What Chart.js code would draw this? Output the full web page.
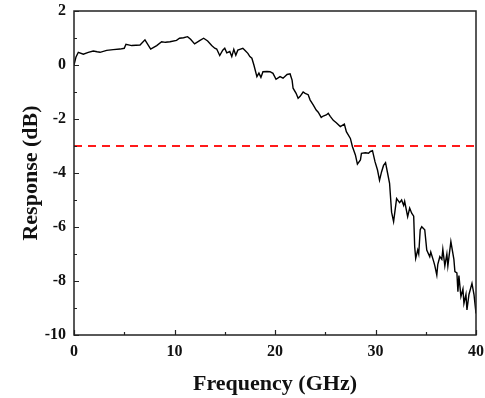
<!DOCTYPE html>
<html>
<head>
<meta charset="utf-8">
<script src="https://cdn.jsdelivr.net/npm/chart.js@4/dist/chart.umd.min.js"></script>
<style>
  html, body { margin: 0; padding: 0; background: #fff; }
  #wrap { width: 485px; height: 398px; }
</style>
</head>
<body>
<div id="wrap"><canvas id="chart" width="485" height="398"></canvas></div>
<script>
// frequency response data
const freqGHz = [
  0, 0.2, 0.43, 0.93, 1.42, 1.92, 2.3, 2.59, 3.25, 3.9, 4.58, 5.0, 5.17, 5.74, 6.57, 7.06,
  7.63, 8.23, 8.72, 9.1, 9.55, 10.2, 10.5, 10.9, 11.3, 11.6, 12.0, 12.5, 12.9, 13.3, 13.7,
  14.0, 14.2, 14.5, 14.8, 15.0, 15.2, 15.5, 15.7, 15.9, 16.1, 16.3, 16.5, 16.8, 17.0, 17.3,
  17.5, 17.7, 17.9, 18.2, 18.4, 18.6, 18.8, 19.2, 19.5, 19.8, 20.1, 20.5, 20.8, 21.2, 21.5,
  21.7, 21.8, 22.1, 22.3, 22.5, 22.8, 23.0, 23.3, 23.5, 23.8, 24.1, 24.3, 24.6, 24.8, 25.1,
  25.3, 25.5, 25.8, 26.1, 26.5, 26.9, 27.1, 27.5, 27.7, 28.0, 28.2, 28.5, 28.6, 29.0, 29.3,
  29.5, 29.7, 29.95, 30.2, 30.4, 30.6, 30.8, 31.0, 31.2, 31.4, 31.6, 31.8, 32.1, 32.4, 32.6,
  32.8, 32.9, 33.2, 33.4, 33.6, 33.8, 33.9, 34.0, 34.2, 34.3, 34.45, 34.6, 34.9, 35.1, 35.4,
  35.5, 35.8, 35.9, 36.1, 36.2, 36.4, 36.6, 36.7, 36.9, 37.1, 37.2, 37.5, 37.8, 37.9, 38.1,
  38.2, 38.3, 38.5, 38.7, 38.8, 39.0, 39.1, 39.3, 39.6, 39.8, 40.0
];
const responseDB = [
  0.0, 0.3, 0.47, 0.40, 0.47, 0.52, 0.49, 0.47, 0.54, 0.57, 0.59, 0.62, 0.77, 0.72, 0.74, 0.93,
  0.59, 0.72, 0.86, 0.84, 0.86, 0.91, 0.99, 1.01, 1.05, 0.95, 0.78, 0.9, 0.99, 0.89, 0.72,
  0.62, 0.59, 0.35, 0.55, 0.62, 0.45, 0.5, 0.31, 0.58, 0.36, 0.55, 0.58, 0.62, 0.55, 0.43,
  0.31, 0.25, 0.0, -0.43, -0.3, -0.46, -0.25, -0.24, -0.25, -0.31, -0.53, -0.43, -0.49, -0.35, -0.33,
  -0.56, -0.86, -1.05, -1.23, -1.16, -1.0, -1.05, -1.1, -1.3, -1.48, -1.67, -1.75, -1.94, -1.89, -1.85,
  -1.79, -1.9, -2.05, -2.14, -2.28, -2.19, -2.47, -2.72, -3.02, -3.33, -3.67, -3.52, -3.27, -3.25, -3.27,
  -3.2, -3.17, -3.58, -3.89, -4.27, -3.96, -3.72, -3.62, -4.0, -4.38, -5.45, -5.8, -4.95, -5.1, -5.0,
  -5.2, -5.05, -5.62, -5.3, -5.49, -5.6, -6.73, -7.16, -6.85, -7.0, -6.1, -5.99, -6.1, -6.85, -7.1,
  -6.93, -7.29, -7.43, -7.78, -7.38, -7.1, -7.2, -6.83, -7.44, -7.0, -7.44, -6.54, -7.2, -7.65, -7.7,
  -8.4, -7.8, -8.58, -8.3, -8.83, -8.5, -9.07, -8.5, -8.09, -8.5, -9.2
];
const cutoffDB = -3;
const xRange = [0, 40];
const yRange = [-10, 2];
const xTicks = [0, 10, 20, 30, 40];
const yTicks = [-10, -8, -6, -4, -2, 0, 2];

const serif = '"Liberation Serif", "Times New Roman", serif';
const axisColor = '#222';

// inward major/minor ticks + box frame
const framePlugin = {
  id: 'frame',
  afterDatasetsDraw(chart) {
    const { ctx, chartArea: a, scales } = chart;
    ctx.save();
    ctx.strokeStyle = axisColor;
    ctx.lineWidth = 1.2;
    ctx.beginPath();
    for (let v = xRange[0]; v <= xRange[1]; v += 5) {
      const px = Math.round(scales.x.getPixelForValue(v)) + 0.5;
      const len = v % 10 === 0 ? 5 : 3;
      ctx.moveTo(px, a.bottom);
      ctx.lineTo(px, a.bottom - len);
    }
    for (let v = yRange[0]; v <= yRange[1]; v += 1) {
      const py = Math.round(scales.y.getPixelForValue(v)) + 0.5;
      const len = v % 2 === 0 ? 5 : 3;
      ctx.moveTo(a.left, py);
      ctx.lineTo(a.left + len, py);
    }
    ctx.stroke();
    ctx.lineWidth = 1.5;
    ctx.strokeRect(a.left, a.top, a.right - a.left, a.bottom - a.top);
    ctx.restore();
  }
};

new Chart(document.getElementById('chart'), {
  type: 'line',
  data: {
    datasets: [
      {
        data: freqGHz.map((f, i) => ({ x: f, y: responseDB[i] })),
        borderColor: '#000',
        borderWidth: 1.4,
        pointRadius: 0,
        tension: 0
      },
      {
        data: xRange.map(f => ({ x: f, y: cutoffDB })),
        borderColor: '#ff1a1a',
        borderWidth: 2,
        borderDash: [8, 6],
        pointRadius: 0
      }
    ]
  },
  options: {
    responsive: false,
    animation: false,
    events: [],
    layout: { padding: { top: 11, right: 9, left: 0, bottom: 0 } },
    plugins: { legend: { display: false }, tooltip: { enabled: false } },
    scales: {
      x: {
        type: 'linear',
        min: xRange[0],
        max: xRange[1],
        afterBuildTicks: s => { s.ticks = xTicks.map(v => ({ value: v })); },
        afterFit: s => { s.height = 63; s.paddingLeft = 0; s.paddingRight = 0; },
        grid: { display: false, drawTicks: false },
        border: { display: false },
        ticks: {
          padding: 7,
          color: '#111',
          maxRotation: 0,
          font: { family: serif, size: 16, weight: 'bold' }
        },
        title: {
          display: true,
          text: 'Frequency (GHz)',
          color: '#111',
          padding: { top: 2, bottom: 0 },
          font: { family: serif, size: 22, weight: 'bold' }
        }
      },
      y: {
        min: yRange[0],
        max: yRange[1],
        afterBuildTicks: s => { s.ticks = yTicks.map(v => ({ value: v })); },
        afterFit: s => { s.width = 74; s.paddingTop = 0; s.paddingBottom = 0; },
        grid: { display: false, drawTicks: false },
        border: { display: false },
        ticks: {
          padding: 8,
          color: '#111',
          font: { family: serif, size: 16, weight: 'bold' }
        },
        title: {
          display: true,
          text: 'Response (dB)',
          color: '#111',
          padding: { top: 18, bottom: 0 },
          font: { family: serif, size: 22, weight: 'bold' }
        }
      }
    }
  },
  plugins: [framePlugin]
});
</script>
</body>
</html>
